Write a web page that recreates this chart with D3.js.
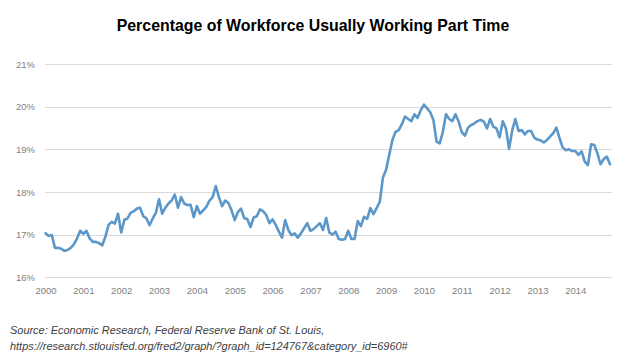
<!DOCTYPE html>
<html>
<head>
<meta charset="utf-8">
<script src="https://cdn.jsdelivr.net/npm/d3@7"></script>
<style>
  html, body { margin: 0; padding: 0; background: #ffffff; }
  svg { display: block; }
</style>
</head>
<body>
<svg id="chart" width="626" height="361"></svg>
<script>
// ---------- DATA ----------
const title = "Percentage of Workforce Usually Working Part Time";
const sourceLines = [
  "Source: Economic Research, Federal Reserve Bank of St. Louis,",
  "https://research.stlouisfed.org/fred2/graph/?graph_id=124767&category_id=6960#"
];
const years = [2000, 2001, 2002, 2003, 2004, 2005, 2006, 2007, 2008, 2009, 2010, 2011, 2012, 2013, 2014];
const yTicks = [16, 17, 18, 19, 20, 21];
// monthly values, Jan 2000 .. Dec 2014 (percent)
const values2000_2003 = [
  17.03, 16.97, 16.99, 16.69, 16.69, 16.67, 16.62, 16.64, 16.69, 16.77, 16.91, 17.09,
  17.02, 17.09, 16.91, 16.83, 16.83, 16.80, 16.75, 16.95, 17.23, 17.30, 17.26, 17.49,
  17.05, 17.35, 17.38, 17.51, 17.55, 17.61, 17.63, 17.43, 17.38, 17.22, 17.38, 17.51,
  17.83, 17.49, 17.63, 17.73, 17.80, 17.94, 17.63, 17.88, 17.73, 17.69, 17.70, 17.41
];
const values2004_2007 = [
  17.67, 17.49, 17.57, 17.65, 17.80, 17.88, 18.14, 17.88, 17.67, 17.80, 17.74, 17.57,
  17.34, 17.53, 17.61, 17.39, 17.36, 17.18, 17.40, 17.43, 17.59, 17.55, 17.46, 17.27,
  17.36, 17.23, 17.07, 16.93, 17.34, 17.11, 16.99, 17.03, 16.93, 17.03, 17.15, 17.27,
  17.09, 17.13, 17.20, 17.27, 17.11, 17.39, 17.05, 17.00, 17.07, 16.90, 16.88, 16.90
];
const values2008_2011 = [
  17.09, 16.90, 16.90, 17.32, 17.20, 17.42, 17.37, 17.62, 17.48, 17.62, 17.77, 18.34,
  18.52, 18.87, 19.22, 19.41, 19.45, 19.59, 19.77, 19.71, 19.66, 19.82, 19.74, 19.92,
  20.05, 19.96, 19.87, 19.69, 19.18, 19.14, 19.41, 19.82, 19.71, 19.66, 19.82, 19.65,
  19.40, 19.32, 19.51, 19.57, 19.61, 19.66, 19.69, 19.65, 19.49, 19.71, 19.53, 19.49
];
const values2012_2014 = [
  19.28, 19.66, 19.49, 19.01, 19.45, 19.71, 19.43, 19.45, 19.35, 19.43, 19.43, 19.27,
  19.23, 19.21, 19.16, 19.22, 19.30, 19.38, 19.51, 19.26, 19.04, 18.98, 19.00, 18.96,
  18.96, 18.87, 18.95, 18.71, 18.63, 19.12, 19.10, 18.91, 18.65, 18.77, 18.83, 18.65
];
const values = [].concat(values2000_2003, values2004_2007, values2008_2011, values2012_2014);

// ---------- CHART ----------
const svg = d3.select("#chart");
const fontAxis = "'Liberation Sans', Arial, sans-serif";

const plotLeft = 45, plotRight = 612;
const x = d3.scaleLinear().domain([0, values.length - 1]).range([45.5, 610]);
const y = d3.scaleLinear().domain([16, 21]).range([277.3, 64]);

// gridlines
svg.append("g").selectAll("line").data(yTicks).join("line")
  .attr("x1", plotLeft).attr("x2", plotRight)
  .attr("y1", d => Math.round(y(d)) + 0.5).attr("y2", d => Math.round(y(d)) + 0.5)
  .attr("stroke", "#d9d9d9").attr("stroke-width", 1);

// y axis labels
const yAxis = d3.axisLeft(y).tickValues(yTicks).tickFormat(d => d + "%").tickSize(0).tickPadding(0);
const gy = svg.append("g").attr("transform", "translate(35,0)").call(yAxis);
gy.select(".domain").remove();
gy.selectAll("text").attr("fill", "#7f7f7f").style("font-family", fontAxis).style("font-size", "9.5px");

// x axis labels
const xAxis = d3.axisBottom(x)
  .tickValues(years.map((yr, i) => i * 12))
  .tickFormat((d, i) => years[i])
  .tickSize(0).tickPadding(0);
const gx = svg.append("g").attr("transform", "translate(0,287)").call(xAxis);
gx.select(".domain").remove();
gx.selectAll("text").attr("fill", "#7f7f7f").style("font-family", fontAxis).style("font-size", "9.5px");

// line
const line = d3.line().x((d, i) => x(i)).y(d => y(d));
svg.append("path").datum(values)
  .attr("d", line)
  .attr("fill", "none")
  .attr("stroke", "#5b97c9")
  .attr("stroke-width", 2.6)
  .attr("stroke-linejoin", "round")
  .attr("stroke-linecap", "round");

// title
const t = svg.append("text")
  .attr("x", 313).attr("y", 31)
  .attr("text-anchor", "middle")
  .style("font-family", fontAxis)
  .style("font-weight", "bold")
  .style("font-size", "16px")
  .attr("fill", "#000")
  .text(title);
const tw = t.node().getComputedTextLength();
t.style("font-size", (16 * 393 / tw).toFixed(2) + "px");

// source
const s = svg.append("g").style("font-family", fontAxis).style("font-style", "italic").attr("fill", "#404040");
const s2 = s.append("text").attr("x", 10).attr("y", 350).style("font-size", "11px").text(sourceLines[1]);
const sw = s2.node().getComputedTextLength();
const fs = (11 * 398 / sw).toFixed(2) + "px";
s2.style("font-size", fs);
s.append("text").attr("x", 10).attr("y", 334).style("font-size", fs).text(sourceLines[0]);
</script>
</body>
</html>
